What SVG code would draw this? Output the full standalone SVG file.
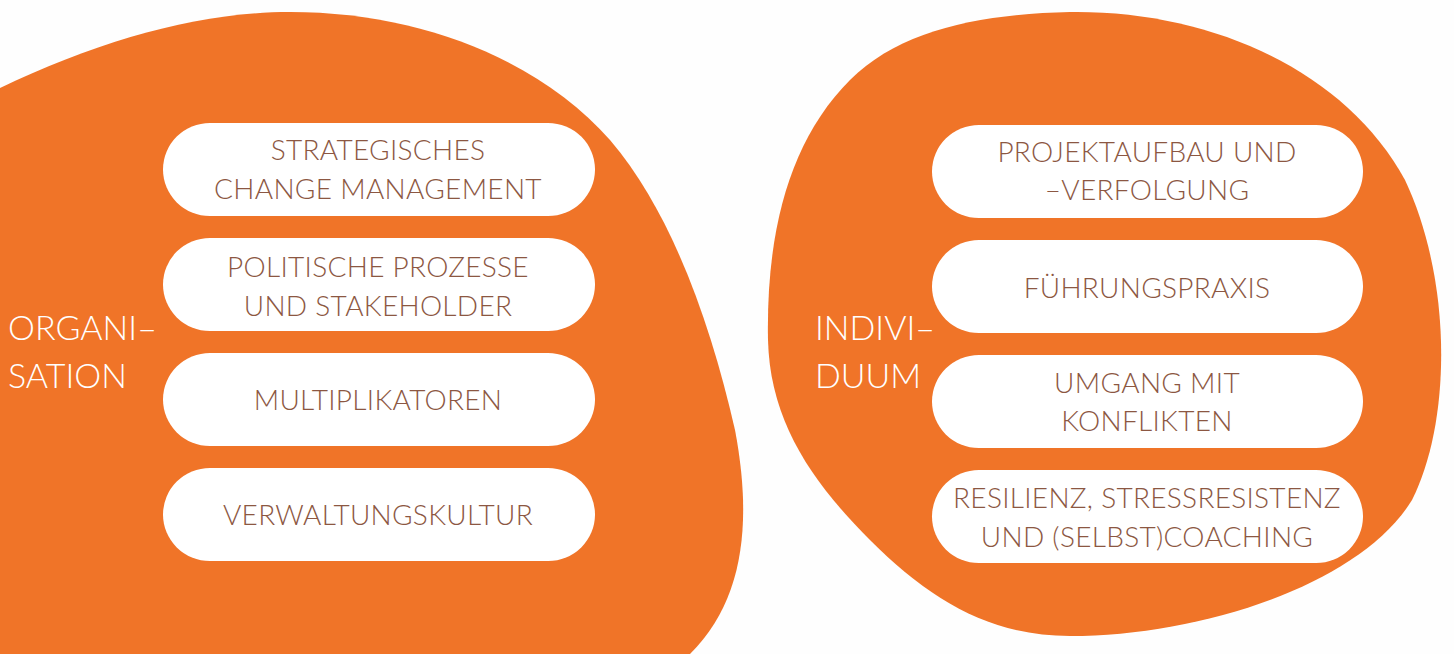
<svg xmlns="http://www.w3.org/2000/svg" width="1454" height="654" viewBox="0 0 1454 654">
<style>
.blob{fill:#F07428}
.pill{fill:#FFFFFF}
.t{font-family:Lato,"Noto Sans","Liberation Sans",sans-serif;font-weight:300;font-size:28px;letter-spacing:0.3px;fill:#8C5742;text-anchor:middle}
.h{font-family:Lato,"Noto Sans","Liberation Sans",sans-serif;font-weight:300;font-size:34px;fill:#FFFFFF}
</style>
<rect width="1454" height="654" fill="#FEFEFE"/>
<g id="organisation">
<path class="blob" d="M0,88 C100,40 200,12 290,12 C420,12 540,60 610,140 C670,210 710,320 735,430 C752,520 745,600 690,654 L0,654 Z"/>
<text class="h" x="8" y="340">ORGANI–</text>
<text class="h" x="8" y="388">SATION</text>
</g>
<g id="individuum">
<path class="blob" d="M768,340 C766,230 790,140 850,80 C900,30 980,14 1070,12 C1210,10 1345,70 1405,180 C1452,280 1452,420 1412,500 C1360,585 1200,636 1070,636 C990,636 930,600 870,540 C810,480 770,420 768,340 Z"/>
<text class="h" x="815" y="340">INDIVI–</text>
<text class="h" x="815" y="388">DUUM</text>
</g>
<g id="n1"><rect class="pill" x="163" y="123" width="432" height="93" rx="47"/><text class="t" x="378" y="160">STRATEGISCHES</text><text class="t" x="378" y="199">CHANGE MANAGEMENT</text></g>
<g id="n2"><rect class="pill" x="163" y="238" width="432" height="93" rx="47"/><text class="t" x="378" y="277">POLITISCHE PROZESSE</text><text class="t" x="378" y="316">UND STAKEHOLDER</text></g>
<g id="n3"><rect class="pill" x="163" y="353" width="432" height="93" rx="47"/><text class="t" x="378" y="410">MULTIPLIKATOREN</text></g>
<g id="n4"><rect class="pill" x="163" y="468" width="432" height="93" rx="47"/><text class="t" x="378" y="525">VERWALTUNGSKULTUR</text></g>
<g id="n5"><rect class="pill" x="932" y="125" width="431" height="93" rx="47"/><text class="t" x="1147" y="162">PROJEKTAUFBAU UND</text><text class="t" x="1147" y="200">–VERFOLGUNG</text></g>
<g id="n6"><rect class="pill" x="932" y="240" width="431" height="93" rx="47"/><text class="t" x="1147" y="298">FÜHRUNGSPRAXIS</text></g>
<g id="n7"><rect class="pill" x="932" y="355" width="431" height="93" rx="47"/><text class="t" x="1147" y="393">UMGANG MIT</text><text class="t" x="1147" y="431">KONFLIKTEN</text></g>
<g id="n8"><rect class="pill" x="932" y="470" width="431" height="93" rx="47"/><text class="t" x="1147" y="508">RESILIENZ, STRESSRESISTENZ</text><text class="t" x="1147" y="547">UND (SELBST)COACHING</text></g>
<g id="connectors"/>
</svg>
